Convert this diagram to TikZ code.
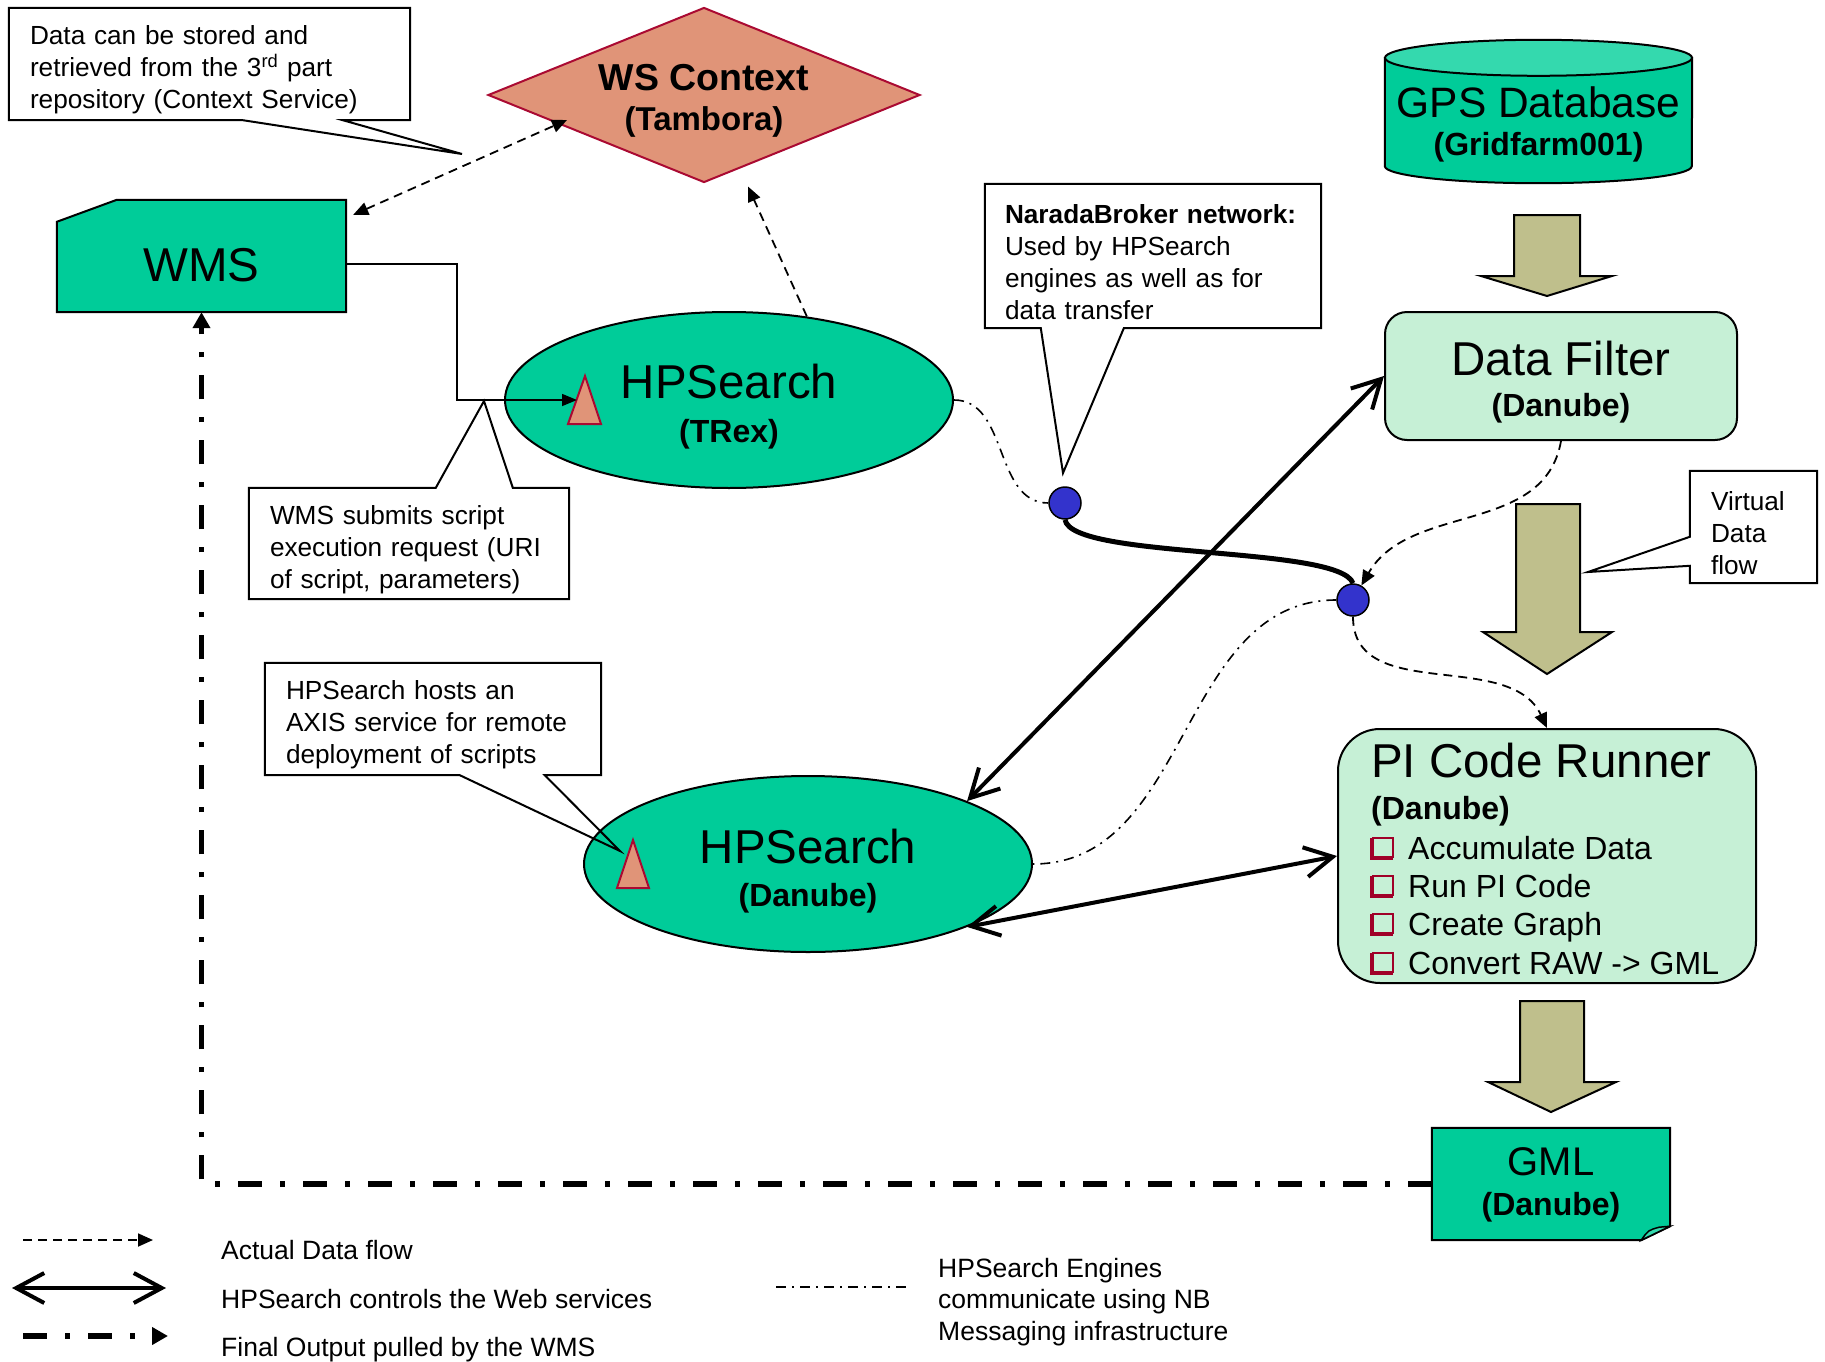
\documentclass[tikz,border=0pt]{standalone}
\usepackage{fontspec}
\setmainfont{Liberation Sans}
\usetikzlibrary{shapes.geometric,arrows.meta}
\definecolor{wsgreen}{RGB}{0,204,153}
\definecolor{wslight}{RGB}{52,217,174}
\definecolor{ctxsalmon}{RGB}{224,148,120}
\definecolor{ctxred}{RGB}{170,10,50}
\definecolor{filtermint}{RGB}{198,240,214}
\definecolor{flowkhaki}{RGB}{191,191,140}
\definecolor{nbblue}{RGB}{51,51,204}
\definecolor{itemred}{RGB}{160,0,40}
\tikzset{
dtip/.tip={Triangle[length=15pt,width=13pt]},
btip/.tip={Straight Barb[length=28pt,width=30pt]},
ptip/.tip={Triangle[length=16pt,width=17pt]},
wtip/.tip={Triangle[length=15pt,width=12pt]}
}
\begin{document}
\begin{tikzpicture}[
x=1pt,y=1pt,
every node/.style={inner sep=0pt},
heading/.style={font=\fontsize{47.5}{56}\selectfont},
hostname/.style={font=\fontsize{32}{38}\selectfont\bfseries},
task/.style={font=\fontsize{32}{38}\selectfont,anchor=base west},
note/.style={font=\fontsize{26.2}{32}\selectfont,align=left,inner xsep=21pt,
  execute at begin node={\rule{0pt}{31pt}}},
keytext/.style={font=\fontsize{26.5}{31.5}\selectfont,align=left,anchor=west},
outline/.style={draw,line width=2pt},
engine/.style={ellipse,outline,fill=wsgreen,minimum width=448pt,minimum height=176pt},
service/.style={rectangle,outline,fill=filtermint,minimum width=352pt,minimum height=128pt,rounded corners=22pt},
nb/.style={circle,draw,line width=1.5pt,fill=nbblue,minimum size=32pt},
marker/.style={draw=ctxred,line width=2pt,fill=ctxsalmon},
bigarrow/.style={outline,fill=flowkhaki},
flow/.style={line width=1.8pt,dash pattern=on 9pt off 6pt},
ctrl/.style={line width=4pt,btip-btip},
pull/.style={line width=5.5pt,dash pattern=on 24pt off 18pt on 5pt off 18pt,-ptip},
msg/.style={line width=1.6pt,dash pattern=on 10pt off 6pt on 2pt off 6pt},
bullet/.style={draw=itemred,line width=2pt},
bulletshade/.style={draw=itemred,line width=4pt}
]
\useasboundingbox (0,0) rectangle (1825,-1362);

% context service
\node[note,text width=359pt,minimum height=112pt] (n1) at (209.5,-64)
  {Data can be stored and\\retrieved from the 3\textsuperscript{rd} part\\repository (Context Service)};
\coordinate (n1tip) at (462,-154);
\draw[outline] (n1.north west) -- (n1.north east) -- (n1.south east) -- ([xshift=334pt]n1.south west)
  -- (n1tip) -- ([xshift=234pt]n1.south west) -- (n1.south west) -- cycle;
\node[diamond,draw=ctxred,line width=2pt,fill=ctxsalmon,minimum width=432pt,minimum height=175pt] (ctx) at (704,-95) {};
\node[font=\fontsize{37.5}{44}\selectfont\bfseries] (ctxt) at ([yshift=17pt]ctx) {WS Context};
\node[font=\fontsize{33}{38}\selectfont\bfseries] (ctxs) at ([yshift=-27pt]ctx) {(Tambora)};

% WMS
\node[minimum width=289pt,minimum height=112pt] (wms) at (201.5,-256) {};
\draw[outline,fill=wsgreen] ([yshift=-22pt]wms.north west) -- ([xshift=60pt]wms.north west)
  -- (wms.north east) -- (wms.south east) -- (wms.south west) -- cycle;
\node[heading] (wmst) at ([yshift=-9pt]wms) {WMS};

% GPS database
\node[minimum width=307pt,minimum height=143pt] (gps) at (1538.5,-111.5) {};
\draw[outline,fill=wsgreen] ([yshift=-18pt]gps.north west) -- ([yshift=17pt]gps.south west)
  arc[start angle=180,end angle=360,x radius=153.5,y radius=17] -- ([yshift=-18pt]gps.north east) -- cycle;
\draw[outline,fill=wslight] ([yshift=-18pt]gps.north) ellipse[x radius=153.5,y radius=18];
\node[heading,font=\fontsize{42.5}{50}\selectfont] (gpst) at ([yshift=9.5pt]gps) {GPS Database};
\node[hostname] (gpss) at ([yshift=-35.5pt]gps) {(Gridfarm001)};

% data filter
\node[service] (filter) at (1561,-376) {};
\node[heading] (filtert) at ([yshift=17pt]filter) {Data Filter};
\node[hostname] (filters) at ([yshift=-32.5pt]filter) {(Danube)};

% HPSearch engines
\node[engine] (trex) at (729,-400) {};
\node[heading] (trext) at ([yshift=18pt]trex) {HPSearch};
\node[hostname] (trexs) at ([yshift=-34pt]trex) {(TRex)};
\coordinate (tri1) at (585,-376);
\draw[marker] (tri1) -- ++(16,-48) -- ++(-33,0) -- cycle;

\node[engine] (hpd) at (808,-864) {};
\node[heading] (hpdt) at ([yshift=17pt]hpd) {HPSearch};
\node[hostname] (hpds) at ([yshift=-34pt]hpd) {(Danube)};
\coordinate (tri2) at (633,-840);
\draw[marker] (tri2) -- ++(16,-48) -- ++(-32,0) -- cycle;

% notes
\node[note,inner xsep=20pt,text width=296pt,minimum height=144pt] (n2) at (1153,-256)
  {\textbf{NaradaBroker network:}\\Used by HPSearch\\engines as well as for\\data transfer};
\coordinate (n2tip) at (1063,-473);
\draw[outline] (n2.north west) -- (n2.north east) -- (n2.south east) -- ([xshift=139pt]n2.south west)
  -- (n2tip) -- ([xshift=56pt]n2.south west) -- (n2.south west) -- cycle;

\node[note,text width=85pt,minimum height=112pt] (n3) at (1753.5,-527) {Virtual\\Data\\flow};
\coordinate (n3tip) at (1588,-572);
\draw[outline] (n3.north west) -- (n3.north east) -- (n3.south east) -- (n3.south west)
  -- ([yshift=-95pt]n3.north west) -- (n3tip) -- ([yshift=-66pt]n3.north west) -- cycle;

\node[note,text width=278pt,minimum height=111pt] (n4) at (409,-543.5)
  {WMS submits script\\execution request (URI\\of script, parameters)};
\coordinate (n4tip) at (484,-401);
\draw[outline] (n4.north west) -- ([xshift=187pt]n4.north west) -- (n4tip) -- ([xshift=264pt]n4.north west)
  -- (n4.north east) -- (n4.south east) -- (n4.south west) -- cycle;

\node[note,text width=294pt,minimum height=112pt] (n5) at (433,-719)
  {HPSearch hosts an\\AXIS service for remote\\deployment of scripts};
\coordinate (n5tip) at (620,-851);
\draw[outline] (n5.north west) -- (n5.north east) -- (n5.south east) -- ([xshift=280pt]n5.south west)
  -- (n5tip) -- ([xshift=195pt]n5.south west) -- (n5.south west) -- cycle;

% PI code runner
\node[service,rounded corners=42pt,minimum width=418pt,minimum height=254pt] (pi) at (1547,-856) {};
\node[heading,anchor=west] (pit) at (1371,-761) {PI Code Runner};
\node[hostname,anchor=west] (pis) at (1371,-811) {(Danube)};
\node[task] (pi1) at (1408,-859.5) {Accumulate Data};
\node[task] (pi2) at (1408,-897.5) {Run PI Code};
\node[task] (pi3) at (1408,-935.5) {Create Graph};
\node[task] (pi4) at (1408,-974.5) {Convert RAW -> GML};
\draw[bullet] ([shift={(-35pt,2.5pt)}]pi1.base west) rectangle ++(20,19);
\draw[bulletshade] ([shift={(-36pt,21.5pt)}]pi1.base west) |- ++(21,-20);
\draw[bullet] ([shift={(-35pt,2.5pt)}]pi2.base west) rectangle ++(20,19);
\draw[bulletshade] ([shift={(-36pt,21.5pt)}]pi2.base west) |- ++(21,-20);
\draw[bullet] ([shift={(-35pt,2.5pt)}]pi3.base west) rectangle ++(20,19);
\draw[bulletshade] ([shift={(-36pt,21.5pt)}]pi3.base west) |- ++(21,-20);
\draw[bullet] ([shift={(-35pt,2.5pt)}]pi4.base west) rectangle ++(20,19);
\draw[bulletshade] ([shift={(-36pt,21.5pt)}]pi4.base west) |- ++(21,-20);

% GML output
\node[minimum width=238pt,minimum height=112pt] (gml) at (1551,-1184) {};
\draw[outline,fill=wsgreen] (gml.north west) -- (gml.north east) -- ([yshift=14pt]gml.south east)
  -- ([xshift=-29pt]gml.south east) -- (gml.south west) -- cycle;
\draw[line width=1.5pt,fill=wslight] ([xshift=-29pt]gml.south east) .. controls ([shift={(-22pt,10pt)}]gml.south east)
  .. ([shift={(-11pt,13pt)}]gml.south east) -- ([yshift=14pt]gml.south east) -- cycle;
\node[heading,font=\fontsize{40}{48}\selectfont] (gmlt) at ([yshift=22pt]gml) {GML};
\node[hostname] (gmls) at ([yshift=-23pt]gml) {(Danube)};

% data pipeline
\draw[bigarrow] (1514,-215) -- (1580,-215) -- (1580,-276) -- (1612,-276) -- (1547,-296) -- (1481,-276) -- (1514,-276) -- cycle;
\draw[bigarrow] (1516,-504) -- (1580,-504) -- (1580,-632) -- (1612,-632) -- (1547,-674) -- (1483,-632) -- (1516,-632) -- cycle;
\draw[bigarrow] (1520,-1001) -- (1584,-1001) -- (1584,-1082) -- (1616,-1082) -- (1551,-1112) -- (1488,-1082) -- (1520,-1082) -- cycle;

% broker nodes
\node[nb] (dot1) at (1065,-503) {};
\node[nb] (dot2) at (1353,-600) {};

\draw[flow,dtip-dtip] ([shift={(7pt,-15pt)}]wms.north east) -- ([shift={(80pt,-25pt)}]ctx.west);
\draw[flow,-dtip] (trex.47) -- ([shift={(44pt,-3pt)}]ctx.south);
\draw[line width=1.5pt,-wtip] ([yshift=-8pt]wms.east) -- ++(111,0) |- ([shift={(-8pt,-24pt)}]tri1);
\draw[msg] (trex.east) to[out=0,in=180] (dot1.west);
\draw[msg] (dot2.west) to[out=180,in=0] (hpd.east);
\draw[line width=5pt] (dot1.south) to[out=-80,in=110,looseness=0.35] (dot2.north);
\draw[flow,-dtip] (filter.south) to[out=-100,in=60] (dot2.60);
\draw[flow,-dtip] (dot2.south) to[out=-90,in=115] (pi.north);
\draw[ctrl] (hpd.north east) -- (filter.west);
\draw[ctrl] (hpd.south east) -- (pi.west);
\draw[pull] (gml.west) -| (wms.south);

% key
\coordinate (k1a) at (23,-1240);
\coordinate (k1b) at (153,-1240);
\draw[flow,-dtip] (k1a) -- (k1b);
\node[keytext] (k1) at (221,-1250) {Actual Data flow};
\coordinate (k2a) at (12,-1288);
\coordinate (k2b) at (166,-1288);
\draw[ctrl] (k2a) -- (k2b);
\node[keytext] (k2) at (221,-1299) {HPSearch controls the Web services};
\coordinate (k3a) at (23,-1336);
\coordinate (k3b) at (168,-1336);
\draw[pull] (k3a) -- (k3b);
\node[keytext] (k3) at (221,-1350) {Final Output pulled by the WMS};
\coordinate (k4a) at (776,-1287);
\coordinate (k4b) at (906,-1287);
\draw[msg] (k4a) -- (k4b);
\node[keytext] (k4) at (938,-1302) {HPSearch Engines\\communicate using NB\\Messaging infrastructure};
\end{tikzpicture}
\end{document}
